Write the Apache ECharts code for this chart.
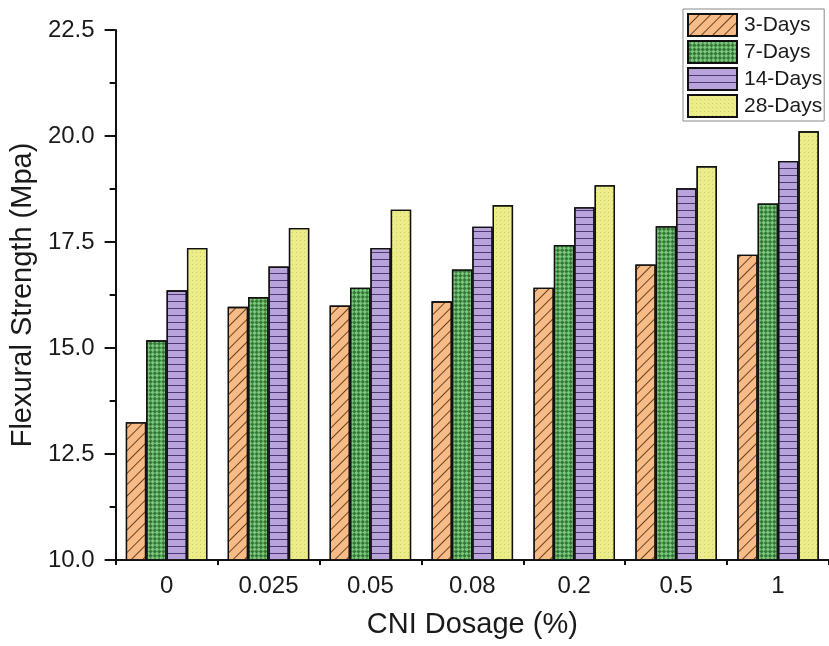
<!DOCTYPE html>
<html><head><meta charset="utf-8">
<script src="https://cdn.jsdelivr.net/npm/echarts@6/dist/echarts.min.js"></script>
<style>html,body{margin:0;padding:0;background:#fff}#c{width:829px;height:646px}</style>
</head><body><div id="c"></div>
<script>
const categories = ['0','0.025','0.05','0.08','0.2','0.5','1'];
const seriesNames = ['3-Days','7-Days','14-Days','28-Days'];
const days3  = [13.25, 15.97, 16.00, 16.10, 16.42, 16.97, 17.20];
const days7  = [15.18, 16.20, 16.42, 16.85, 17.43, 17.87, 18.41];
const days14 = [16.36, 16.92, 17.36, 17.86, 18.32, 18.77, 19.41];
const days28 = [17.36, 17.83, 18.26, 18.37, 18.84, 19.29, 20.11];
const yTicks = [10.0, 12.5, 15.0, 17.5, 20.0, 22.5];

const colors = ['#f7bb88','#79c87c','#b9a3db','#ecec8a'];
const decals = [
  {symbol:'rect', dashArrayX:[1,0], dashArrayY:[1,7], rotation:-Math.PI/4, color:'rgba(70,35,0,0.8)', symbolSize:1},
  {symbol:'rect', dashArrayX:[[3,3],[0,3,3,0]], dashArrayY:[3,0], rotation:Math.PI/4, color:'rgba(10,65,10,0.6)', symbolSize:1},
  {symbol:'rect', dashArrayX:[1,0], dashArrayY:[1,6], rotation:0, color:'rgba(40,20,80,0.75)', symbolSize:1},
  {symbol:'circle', dashArrayX:[[1,3]], dashArrayY:[1,3], color:'rgba(180,180,70,0.7)', symbolSize:1}
];
const allData = [days3, days7, days14, days28];
const font = 'Liberation Sans, Arial, sans-serif';

const chart = echarts.init(document.getElementById('c'), null, {renderer:'canvas'});
chart.setOption({
  animation:false,
  backgroundColor:'#fff',
  textStyle:{fontFamily:font},
  grid:{left:115, top:30, bottom:86, right:-9, containLabel:false},
  legend:{
    orient:'vertical', left:683, top:9,
    padding:[4,2,3,4], itemGap:3, itemWidth:49, itemHeight:22,
    icon:'rect',
    borderColor:'#888', borderWidth:1, backgroundColor:'#fff',
    textStyle:{fontSize:21, color:'#1a1a1a', fontFamily:font, padding:[0,0,0,2]},
    data:seriesNames
  },
  xAxis:[{
    type:'category', data:categories,
    name:'CNI Dosage (%)', nameLocation:'middle', nameGap:50,
    nameTextStyle:{fontSize:29, color:'#1a1a1a'},
    axisLine:{lineStyle:{color:'#111', width:2}},
    axisTick:{alignWithLabel:true, length:9, lineStyle:{color:'#111', width:2}},
    axisLabel:{fontSize:24, color:'#1a1a1a', margin:14}
  },{
    type:'category', data:categories, position:'bottom',
    axisLine:{show:false}, axisLabel:{show:false},
    axisTick:{show:true, length:5, lineStyle:{color:'#111', width:2}}
  }],
  yAxis:{
    type:'value', min:yTicks[0], max:yTicks[yTicks.length-1], interval:2.5,
    name:'Flexural Strength (Mpa)', nameLocation:'middle', nameGap:75,
    nameTextStyle:{fontSize:29, color:'#1a1a1a'},
    axisLine:{show:true, lineStyle:{color:'#111', width:2}},
    axisTick:{show:true, length:11, lineStyle:{color:'#111', width:2}},
    minorTick:{show:true, splitNumber:2, length:6, lineStyle:{color:'#111', width:2}},
    splitLine:{show:false},
    axisLabel:{fontSize:24, color:'#1a1a1a', margin:21, formatter:v=>v.toFixed(1)}
  },
  series: seriesNames.map((n,i)=>({
    name:n, type:'bar', data:allData[i], xAxisIndex:0,
    barGap:'0%', barCategoryGap:'20%',
    itemStyle:{color:colors[i], borderColor:'#111', borderWidth:1.3, decal:decals[i]}
  }))
});
</script></body></html>
